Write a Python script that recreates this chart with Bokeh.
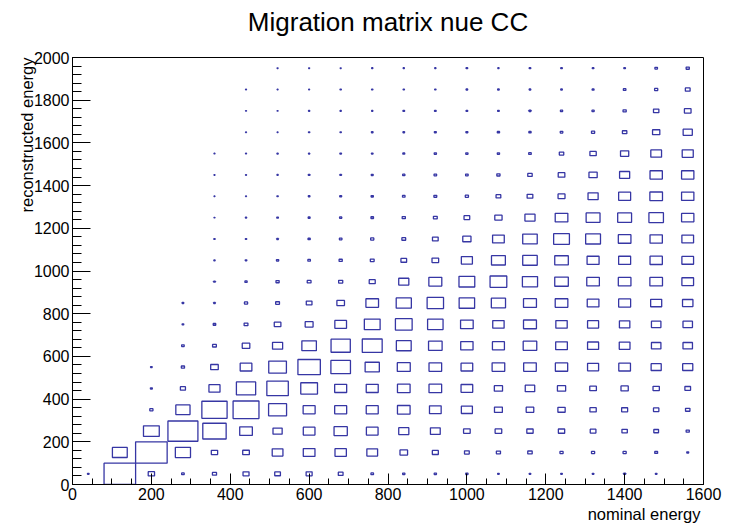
import numpy as np
from bokeh.plotting import figure
from bokeh.models import Range1d, SingleIntervalTicker, Title, ColumnDataSource
from bokeh.embed import file_html
from bokeh.resources import INLINE

# Binning of the migration matrix
x_edges_start, x_bin_width, n_x = 0, 80, 20      # nominal energy
y_edges_start, y_bin_width, n_y = 0, 100, 20     # reconstructed energy

# Relative cell content, one list per nominal-energy bin (index = reconstructed bin, bottom -> top)
nom_00 = [0.05, 0, 0, 0, 0, 0, 0, 0, 0, 0, 0, 0, 0, 0, 0, 0, 0, 0, 0, 0]
nom_01 = [1.0, 0.47, 0, 0, 0, 0, 0, 0, 0, 0, 0, 0, 0, 0, 0, 0, 0, 0, 0, 0]
nom_02 = [0.2, 1.0, 0.5, 0.1, 0.06, 0.05, 0, 0, 0, 0, 0, 0, 0, 0, 0, 0, 0, 0, 0, 0]
nom_03 = [0.08, 0.48, 0.95, 0.45, 0.16, 0.1, 0.08, 0.05, 0.05, 0, 0, 0, 0, 0, 0, 0, 0, 0, 0, 0]
nom_04 = [0.13, 0.2, 0.74, 0.8, 0.35, 0.24, 0.12, 0.08, 0.05, 0.05, 0.04, 0.04, 0.03, 0.03, 0.03, 0.03, 0, 0, 0, 0]
nom_05 = [0.19, 0.21, 0.4, 0.82, 0.61, 0.37, 0.24, 0.12, 0.1, 0.07, 0.05, 0.04, 0.04, 0.03, 0.03, 0.03, 0.03, 0.03, 0.03, 0]
nom_06 = [0.18, 0.34, 0.29, 0.57, 0.68, 0.56, 0.32, 0.21, 0.12, 0.1, 0.07, 0.05, 0.05, 0.04, 0.04, 0.04, 0.03, 0.03, 0.03, 0.03]
nom_07 = [0.19, 0.37, 0.37, 0.38, 0.53, 0.71, 0.46, 0.25, 0.18, 0.12, 0.08, 0.07, 0.06, 0.05, 0.05, 0.04, 0.04, 0.04, 0.03, 0.03]
nom_08 = [0.15, 0.36, 0.42, 0.38, 0.38, 0.62, 0.61, 0.37, 0.24, 0.13, 0.1, 0.08, 0.07, 0.06, 0.05, 0.05, 0.04, 0.04, 0.04, 0.03]
nom_09 = [0.08, 0.34, 0.37, 0.38, 0.38, 0.45, 0.63, 0.5, 0.4, 0.19, 0.12, 0.1, 0.08, 0.07, 0.06, 0.05, 0.05, 0.04, 0.04, 0.04]
nom_10 = [0.07, 0.24, 0.32, 0.4, 0.4, 0.41, 0.47, 0.53, 0.48, 0.32, 0.18, 0.12, 0.1, 0.08, 0.07, 0.06, 0.05, 0.05, 0.04, 0.04]
nom_11 = [0.07, 0.19, 0.31, 0.37, 0.4, 0.4, 0.43, 0.49, 0.52, 0.41, 0.21, 0.18, 0.12, 0.09, 0.08, 0.07, 0.06, 0.05, 0.04, 0.04]
nom_12 = [0.07, 0.15, 0.21, 0.35, 0.37, 0.37, 0.39, 0.4, 0.49, 0.5, 0.35, 0.26, 0.18, 0.1, 0.08, 0.07, 0.06, 0.05, 0.05, 0.05]
nom_13 = [0.05, 0.13, 0.21, 0.25, 0.26, 0.4, 0.38, 0.36, 0.45, 0.53, 0.44, 0.37, 0.23, 0.15, 0.1, 0.07, 0.07, 0.05, 0.05, 0.04]
nom_14 = [0.05, 0.14, 0.2, 0.24, 0.3, 0.4, 0.43, 0.41, 0.41, 0.48, 0.46, 0.46, 0.32, 0.18, 0.14, 0.08, 0.07, 0.06, 0.05, 0.05]
nom_15 = [0.05, 0.1, 0.2, 0.23, 0.26, 0.39, 0.37, 0.36, 0.4, 0.43, 0.43, 0.5, 0.4, 0.22, 0.21, 0.14, 0.08, 0.07, 0.05, 0.05]
nom_16 = [0.05, 0.1, 0.18, 0.2, 0.21, 0.35, 0.35, 0.35, 0.37, 0.4, 0.38, 0.47, 0.44, 0.32, 0.26, 0.2, 0.1, 0.07, 0.06, 0.05]
nom_17 = [0.06, 0.1, 0.17, 0.19, 0.23, 0.37, 0.34, 0.33, 0.38, 0.4, 0.38, 0.4, 0.44, 0.38, 0.32, 0.26, 0.14, 0.1, 0.08, 0.05]
nom_18 = [0.05, 0.09, 0.15, 0.17, 0.2, 0.32, 0.3, 0.3, 0.35, 0.4, 0.39, 0.39, 0.46, 0.4, 0.39, 0.34, 0.23, 0.17, 0.1, 0.08]
nom_19 = [0, 0.06, 0.1, 0.14, 0.18, 0.32, 0.3, 0.3, 0.33, 0.37, 0.37, 0.37, 0.39, 0.39, 0.39, 0.35, 0.29, 0.21, 0.15, 0.1]

columns = [nom_00, nom_01, nom_02, nom_03, nom_04, nom_05, nom_06, nom_07, nom_08, nom_09,
           nom_10, nom_11, nom_12, nom_13, nom_14, nom_15, nom_16, nom_17, nom_18, nom_19]

title_text = "Migration matrix nue CC"
x_title = "nominal energy"
y_title = "reconstructed energy"

# Box representation: side length proportional to content (largest cell fills its bin)
content = np.array(columns, dtype=float)          # shape (n_x, n_y)
zmax = content.max()
xc, yc, w, h = [], [], [], []
for i in range(n_x):
    for j in range(n_y):
        z = content[i, j]
        if z <= 0:
            continue
        frac = z / zmax
        xc.append(x_edges_start + (i + 0.5) * x_bin_width)
        yc.append(y_edges_start + (j + 0.5) * y_bin_width)
        w.append(frac * x_bin_width)
        h.append(frac * y_bin_width)
src = ColumnDataSource(dict(x=xc, y=yc, w=w, h=h))

FONT = "Liberation Sans"

p = figure(width=729, height=523, output_backend="svg", toolbar_location=None, title=None,
           x_range=Range1d(0, 1600), y_range=Range1d(0, 2000),
           min_border_left=72, min_border_right=26, min_border_top=57, min_border_bottom=39)
p.background_fill_color = "white"
p.border_fill_color = "white"
p.outline_line_color = "black"
p.outline_line_width = 1
p.xgrid.visible = False
p.ygrid.visible = False

p.rect(x="x", y="y", width="w", height="h", source=src, fill_color=None,
       line_color="#3636a4", line_width=1.3)

# ROOT-style axes: ticks pointing into the frame
p.xaxis.ticker = SingleIntervalTicker(interval=200, num_minor_ticks=4)
p.yaxis.ticker = SingleIntervalTicker(interval=200, num_minor_ticks=5)
for ax, major, minor in ((p.xaxis, 11, 6), (p.yaxis, 18, 9)):
    ax.major_tick_in = major
    ax.major_tick_out = 0
    ax.minor_tick_in = minor
    ax.minor_tick_out = 0
    ax.axis_line_color = "black"
    ax.major_tick_line_color = "black"
    ax.minor_tick_line_color = "black"
    ax.major_label_text_font = FONT
    ax.major_label_text_font_size = "16px"
    ax.major_label_text_color = "black"
    ax.major_label_standoff = 3

# Gap between the frame and the main title
p.add_layout(Title(text=" ", text_font=FONT, text_font_size="17px", standoff=0), "above")
# Main title
p.add_layout(Title(text=title_text, align="center", offset=5, standoff=0, text_font=FONT,
                   text_font_size="26px", text_font_style="normal", text_color="black"),
             "above")

# Axis titles, right-aligned at the far end of each axis
p.add_layout(Title(text=x_title, align="right", offset=3, standoff=0, text_font=FONT,
                   text_font_size="16.5px", text_font_style="normal", text_color="black"),
             "below")
p.add_layout(Title(text=y_title, align="right", offset=0, standoff=-10, text_font=FONT,
                   text_font_size="16.5px", text_font_style="normal", text_color="black"),
             "left")

open("out.html", "w").write(file_html(p, INLINE))
